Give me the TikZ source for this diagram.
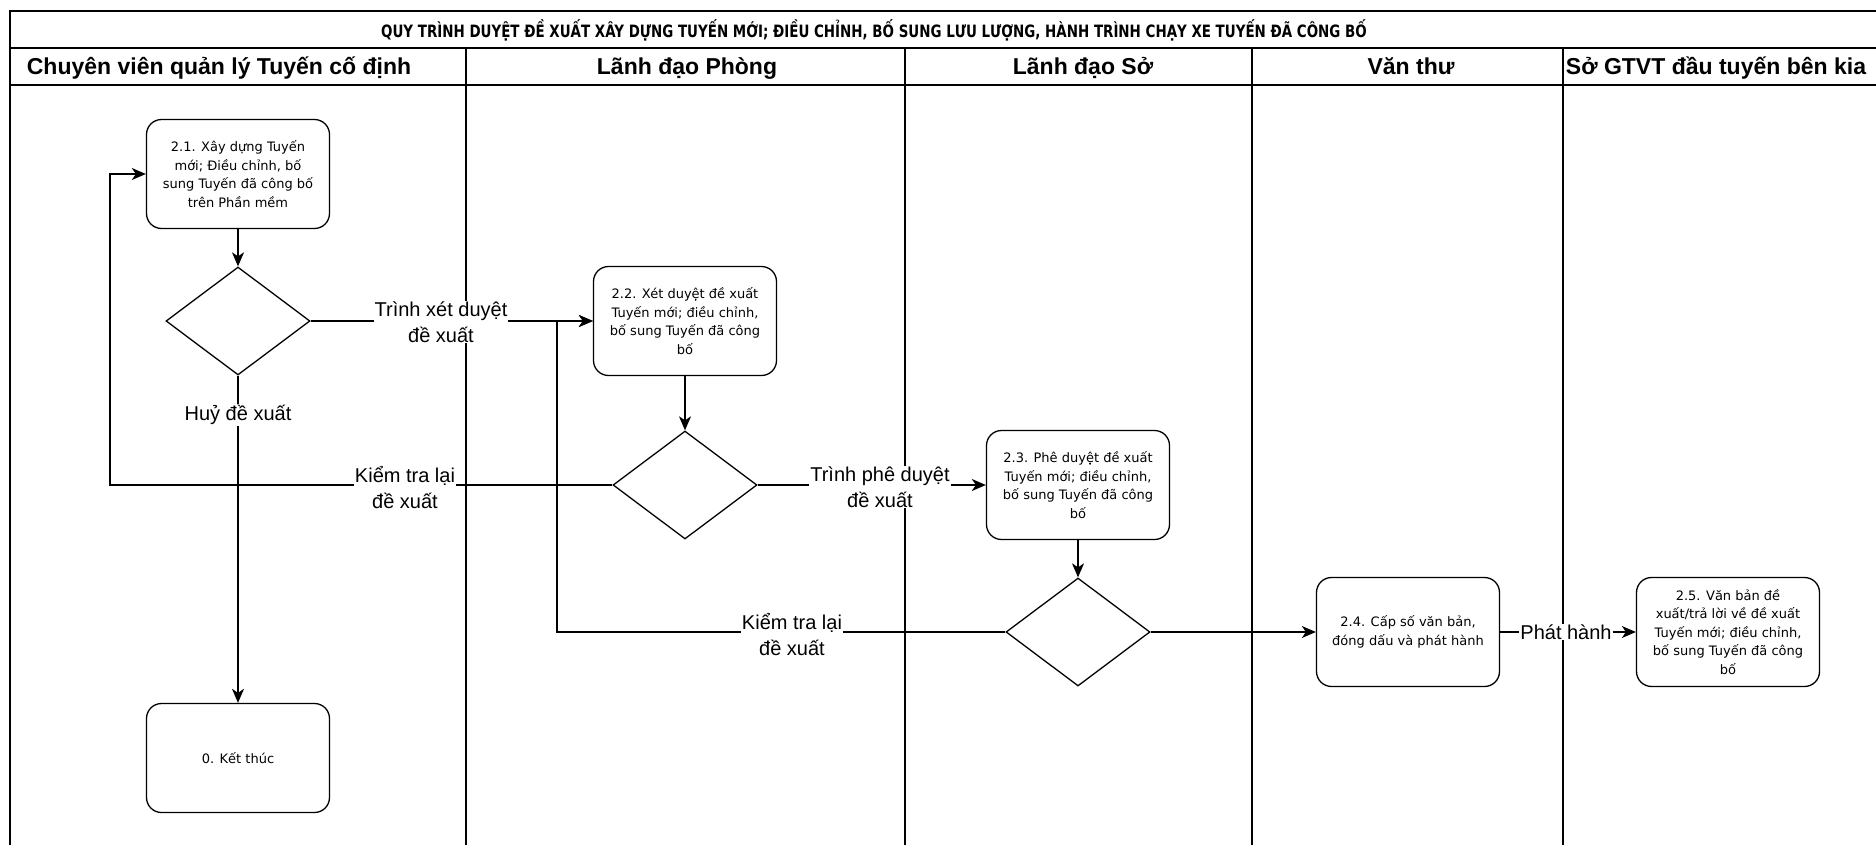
\documentclass[tikz,border=0pt]{standalone}
\usepackage{fontspec}
\setmainfont{Liberation Sans}
\newfontfamily\boxfont{DejaVu Sans}
\newfontfamily\titlefont[FakeStretch=0.79]{DejaVu Sans}
\usetikzlibrary{arrows.meta,shapes.geometric}

\tikzset{
  stepbox/.style={draw, rounded corners=15pt, line width=1.3pt,
    minimum width=183pt, minimum height=109pt, align=center, inner sep=2pt,
    font=\boxfont\fontsize{13}{18.5}\selectfont},
  choice/.style={draw, diamond, line width=1.3pt, inner sep=0pt,
    minimum width=144pt, minimum height=108pt},
  flow/.style={line width=1.3pt, -{Stealth[length=14pt,width=12pt,inset=4pt]}},
  wire/.style={line width=1.3pt},
  tag/.style={fill=white, align=center, inner sep=1pt,
    font=\fontsize{20}{26}\selectfont},
  lanehead/.style={font=\bfseries\fontsize{23}{28}\selectfont,
    text height=17pt, text depth=5pt}
}

\begin{document}
\begin{tikzpicture}[x=1pt,y=-1pt]
\useasboundingbox (0,0) rectangle (1876,845);

% the pool: title row, header row and the lanes
\draw[wire] (1880,11) -- (10,11) -- (10,850);
\draw[wire] (10,48) -- (1880,48);
\draw[wire] (10,85) -- (1880,85);
\foreach \x in {466,905,1252,1563}
  \draw[wire] (\x,48) -- (\x,850);

\node[font=\titlefont\bfseries\fontsize{17}{20}\selectfont] (title) at (874,30)
  {QUY TRÌNH DUYỆT ĐỀ XUẤT XÂY DỰNG TUYẾN MỚI; ĐIỀU CHỈNH, BỐ SUNG LƯU LƯỢNG, HÀNH TRÌNH CHẠY XE TUYẾN ĐÃ CÔNG BỐ};

\node[lanehead] (laneA) at (219,69)  {Chuyên viên quản lý Tuyến cố định};
\node[lanehead] (laneB) at (687,69)  {Lãnh đạo Phòng};
\node[lanehead] (laneC) at (1083,69) {Lãnh đạo Sở};
\node[lanehead] (laneD) at (1411,69) {Văn thư};
\node[lanehead] (laneE) at (1716,69) {Sở GTVT đầu tuyến bên kia};

% the steps and the choices
\node[stepbox] (s21) at (238,174)  {2.1. Xây dựng Tuyến\\mới; Điều chỉnh, bố\\sung Tuyến đã công bố\\trên Phần mềm};
\node[choice]  (q1)  at (238,321)  {};
\node[stepbox] (s22) at (685,321)  {2.2. Xét duyệt đề xuất\\Tuyến mới; điều chỉnh,\\bố sung Tuyến đã công\\bố};
\node[choice]  (q2)  at (685,485)  {};
\node[stepbox] (s23) at (1078,485) {2.3. Phê duyệt đề xuất\\Tuyến mới; điều chỉnh,\\bố sung Tuyến đã công\\bố};
\node[choice]  (q3)  at (1078,632) {};
\node[stepbox] (s24) at (1408,632) {2.4. Cấp số văn bản,\\đóng dấu và phát hành};
\node[stepbox] (s25) at (1728,632) {2.5. Văn bản đề\\xuất/trả lời về đề xuất\\Tuyến mới; điều chỉnh,\\bố sung Tuyến đã công\\bố};
\node[stepbox] (s0)  at (238,758)  {0. Kết thúc};

% corners of the two loops back
\coordinate (back1) at (110,174);
\coordinate (back2) at (557,321);

% all of the connectors
\draw[flow] (s21) -- (q1);
\draw[flow] (q1) -- (s22);
\draw[flow] (q1) -- (s0);
\draw[flow] (s22) -- (q2);
\draw[flow] (q2.west) -| (back1) -- (s21.west);
\draw[flow] (q2) -- (s23);
\draw[flow] (s23) -- (q3);
\draw[flow] (q3.west) -| (back2) -- (s22.west);
\draw[flow] (q3) -- (s24);
\draw[flow] (s24) -- (s25);

% the labels on the connectors
\node[tag] (go1)    at (441,322)  {Trình xét duyệt\\đề xuất};
\node[tag] (cancel) at (238,415)  {Huỷ đề xuất};
\node[tag] (redo1)  at (405,488)  {Kiểm tra lại\\đề xuất};
\node[tag] (go2)    at (880,487)  {Trình phê duyệt\\đề xuất};
\node[tag] (redo2)  at (792,635)  {Kiểm tra lại\\đề xuất};
\node[tag] (issue)  at (1566,632) {Phát hành};

\end{tikzpicture}
\end{document}
